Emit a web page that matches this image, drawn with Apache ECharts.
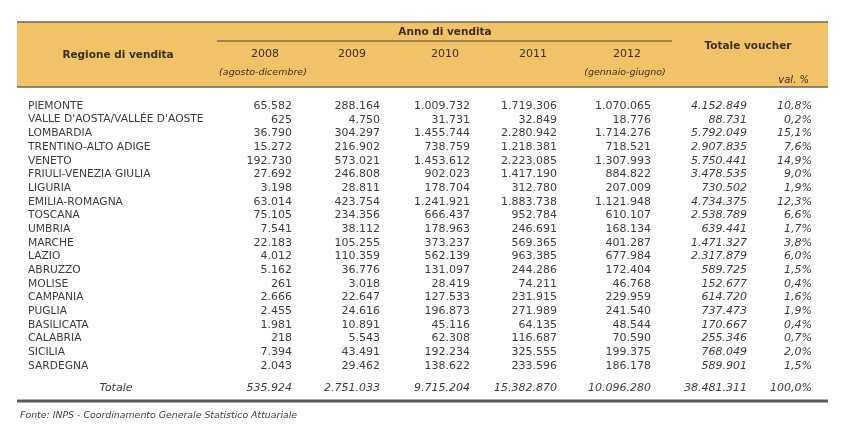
<!DOCTYPE html>
<html>
<head>
<meta charset="utf-8">
<style>html,body{margin:0;padding:0;background:#fff;}#c{width:844px;height:435px;}</style>
<script src="https://cdn.jsdelivr.net/npm/echarts@6/dist/echarts.min.js"></script>
</head>
<body>
<div id="c"></div>
<script>
// ---- data ----
var regions = ["PIEMONTE","VALLE D'AOSTA/VALLÉE D'AOSTE","LOMBARDIA","TRENTINO-ALTO ADIGE","VENETO","FRIULI-VENEZIA GIULIA","LIGURIA","EMILIA-ROMAGNA","TOSCANA","UMBRIA","MARCHE","LAZIO","ABRUZZO","MOLISE","CAMPANIA","PUGLIA","BASILICATA","CALABRIA","SICILIA","SARDEGNA"];
var v2008 = [65582,625,36790,15272,192730,27692,3198,63014,75105,7541,22183,4012,5162,261,2666,2455,1981,218,7394,2043];
var v2009 = [288164,4750,304297,216902,573021,246808,28811,423754,234356,38112,105255,110359,36776,3018,22647,24616,10891,5543,43491,29462];
var v2010 = [1009732,31731,1455744,738759,1453612,902023,178704,1241921,666437,178963,373237,562139,131097,28419,127533,196873,45116,62308,192234,138622];
var v2011 = [1719306,32849,2280942,1218381,2223085,1417190,312780,1883738,952784,246691,569365,963385,244286,74211,231915,271989,64135,116687,325555,233596];
var v2012 = [1070065,18776,1714276,718521,1307993,884822,207009,1121948,610107,168134,401287,677984,172404,46768,229959,241540,48544,70590,199375,186178];
var totaleVoucher = [4152849,88731,5792049,2907835,5750441,3478535,730502,4734375,2538789,639441,1471327,2317879,589725,152677,614720,737473,170667,255346,768049,589901];
var valPct = [10.8,0.2,15.1,7.6,14.9,9.0,1.9,12.3,6.6,1.7,3.8,6.0,1.5,0.4,1.6,1.9,0.4,0.7,2.0,1.5];
var totalLabel = "Totale";
var totalRow = [535924,2751033,9715204,15382870,10096280,38481311,100.0];
var yearLabels = ["2008","2009","2010","2011","2012"];
var yearNotes = ["(agosto-dicembre)","","","","(gennaio-giugno)"];

// ---- layout / style ----
var FONT = "'DejaVu Sans', Verdana, sans-serif";
var colAnchor = [28, 292, 380, 470, 557, 651, 747, 812];
var yearCenter = [265, 352, 445, 533, 627];
var totalGap = 22;
var textColor = "#3d3d3d";
var headColor = "#3a3124";

function fmt(n){ return String(n).replace(/\B(?=(\d{3})+(?!\d))/g, "."); }
function fmtPct(n){ return n.toFixed(1).replace(".", ",") + "%"; }

function rowTexts(vals, pct, y, api, italicAll){
  var els = [];
  for (var k = 0; k < 7; k++){
    var isIt = italicAll || k >= 5;
    var txt = k === 6 ? fmtPct(pct) : fmt(vals[k]);
    var x = api.coord([colAnchor[k+1], 0])[0];
    els.push({type:'text', style:{text:txt, x:x, y:y, align:'right', verticalAlign:'middle',
      font:(isIt?'italic ':'') + '11px ' + FONT, fill:textColor}});
  }
  return els;
}

var chart = echarts.init(document.getElementById('c'), null, {renderer:'canvas'});
var option = {
  animation:false,
  grid:{left:0, right:0, top:99.2, bottom:62.2},
  xAxis:{type:'value', min:0, max:844, show:false},
  yAxis:{type:'category', data:regions, inverse:true, show:false},
  graphic:[
    {type:'rect', silent:true, shape:{x:17, y:22, width:811, height:65}, style:{fill:'#f1c266'}},
    {type:'line', silent:true, shape:{x1:17, y1:22, x2:828, y2:22}, style:{stroke:'#6e6556', lineWidth:1.5}},
    {type:'line', silent:true, shape:{x1:17, y1:87, x2:828, y2:87}, style:{stroke:'#6e6556', lineWidth:1.5}},
    {type:'line', silent:true, shape:{x1:217, y1:41, x2:672, y2:41}, style:{stroke:'#4e4535', lineWidth:1}},
    {type:'text', silent:true, style:{text:'Anno di vendita', x:445, y:32, align:'center', verticalAlign:'middle', font:'bold 10.5px ' + FONT, fill:headColor}},
    {type:'text', silent:true, style:{text:'Regione di vendita', x:118, y:55, align:'center', verticalAlign:'middle', font:'bold 10.5px ' + FONT, fill:headColor}},
    {type:'text', silent:true, style:{text:'Totale voucher', x:748, y:46, align:'center', verticalAlign:'middle', font:'bold 10.5px ' + FONT, fill:headColor}},
    {type:'text', silent:true, style:{text:'val. %', x:809, y:80, align:'right', verticalAlign:'middle', font:'italic 10px ' + FONT, fill:headColor}},
    {type:'line', silent:true, shape:{x1:17, y1:401, x2:828, y2:401}, style:{stroke:'#5a5a5a', lineWidth:3}},
    {type:'text', silent:true, style:{text:'Fonte: INPS - Coordinamento Generale Statistico Attuariale', x:20, y:416, align:'left', verticalAlign:'middle', font:'italic 9.4px ' + FONT, fill:'#404040'}}
  ].concat(yearLabels.map(function(t,i){
    return {type:'text', silent:true, style:{text:t, x:yearCenter[i], y:54, align:'center', verticalAlign:'middle', font:'11px ' + FONT, fill:headColor}};
  })).concat(yearNotes.filter(function(t){return t;}).map(function(t){
    var i = yearNotes.indexOf(t);
    return {type:'text', silent:true, style:{text:t, x:yearCenter[i]-2, y:73, align:'center', verticalAlign:'middle', font:'italic 9.5px ' + FONT, fill:headColor}};
  })),
  series:[
    {
      type:'custom', silent:true,
      data: regions.map(function(r,i){ return [0, i]; }),
      encode:{x:0, y:1},
      renderItem:function(params, api){
        var i = api.value(1);
        var y = api.coord([0, i])[1];
        var vals = [v2008[i], v2009[i], v2010[i], v2011[i], v2012[i], totaleVoucher[i]];
        var els = [{type:'text', style:{text:regions[i], x:api.coord([colAnchor[0], i])[0], y:y, align:'left', verticalAlign:'middle', font:'10.7px ' + FONT, fill:textColor}}];
        els = els.concat(rowTexts(vals, valPct[i], y, api, false));
        return {type:'group', children:els};
      }
    },
    {
      type:'custom', silent:true,
      data: [[0, regions.length - 1]],
      encode:{x:0, y:1},
      renderItem:function(params, api){
        var y = api.coord([0, api.value(1)])[1] + totalGap;
        var els = [{type:'text', style:{text:totalLabel, x:116, y:y, align:'center', verticalAlign:'middle', font:'italic 11px ' + FONT, fill:textColor}}];
        els = els.concat(rowTexts(totalRow.slice(0,6), totalRow[6], y, api, true));
        return {type:'group', children:els};
      }
    }
  ]
};
chart.setOption(option);
</script>
</body>
</html>
